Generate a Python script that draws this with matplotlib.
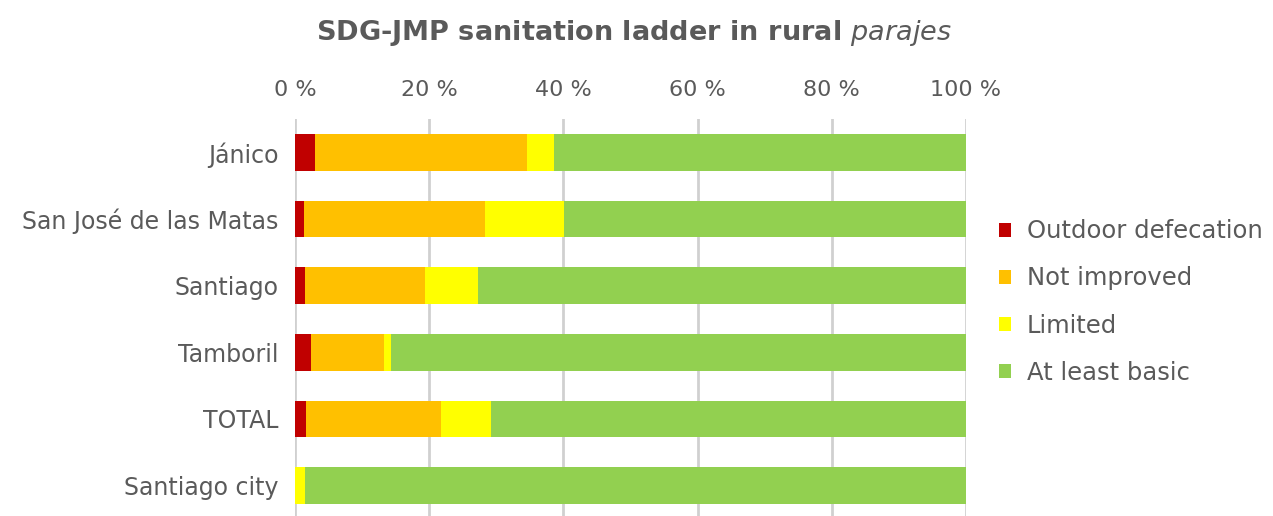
import numpy as np
import matplotlib.pyplot as plt
from matplotlib.patches import Patch

# sanitation ladder shares (%) per municipality, top to bottom
places = ["Jánico", "San José de las Matas", "Santiago", "Tamboril", "TOTAL", "Santiago city"]
outdoor = [3.0, 1.3, 1.5, 2.4, 1.7, 0.0]
not_improved = [31.6, 27.0, 17.9, 10.9, 20.1, 0.0]
limited = [4.0, 11.8, 7.9, 1.0, 7.4, 1.5]
at_least_basic = [61.4, 59.9, 72.7, 85.7, 70.8, 98.5]

series = [
    ("Outdoor defecation", outdoor, "#C00000"),
    ("Not improved", not_improved, "#FFC000"),
    ("Limited", limited, "#FFFF00"),
    ("At least basic", at_least_basic, "#92D050"),
]
ticks = [0, 20, 40, 60, 80, 100]

txt = "#5A5A5A"
plt.rcParams['font.family'] = ['DejaVu Sans']

fig = plt.figure(figsize=(12.73, 5.16), dpi=100)
ax = fig.add_axes([295 / 1273, -3 / 516, 671 / 1273, 400 / 516])

y = np.arange(len(places))
left = np.zeros(len(places))
for name, vals, col in series:
    ax.barh(y, vals, left=left, height=0.55, color=col, zorder=3)
    left += np.array(vals)

ax.set_xlim(0, 100)
ax.set_ylim(len(places) - 0.5, -0.5)
ax.set_xticks(ticks)
ax.set_xticklabels([f"{t} %" for t in ticks])
ax.xaxis.tick_top()
ax.tick_params(axis='x', length=0, pad=14, labelsize=16, labelcolor=txt)
ax.set_yticks(y)
ax.set_yticklabels(places)
ax.tick_params(axis='y', length=0, pad=12, labelsize=17, labelcolor=txt)
ax.grid(axis='x', color="#D0D0D0", linewidth=2, zorder=0)
for s in ax.spines.values():
    s.set_visible(False)

fig.text(634 / 1273, 1 - 33 / 516, "SDG-JMP sanitation ladder in rural $\\it{parajes}$",
         ha='center', va='center', fontsize=19.5, color=txt, fontweight='bold')

handles = [Patch(facecolor=c, edgecolor='none') for _, _, c in series]
fig.legend(handles, [n for n, _, _ in series], loc='center left',
           bbox_to_anchor=(977 / 1273, 1 - 302 / 516), frameon=False,
           fontsize=17.5, labelcolor=txt, handlelength=0.5, handleheight=0.5,
           handletextpad=0.65, labelspacing=0.95)

fig.savefig("out.png", dpi=100)
